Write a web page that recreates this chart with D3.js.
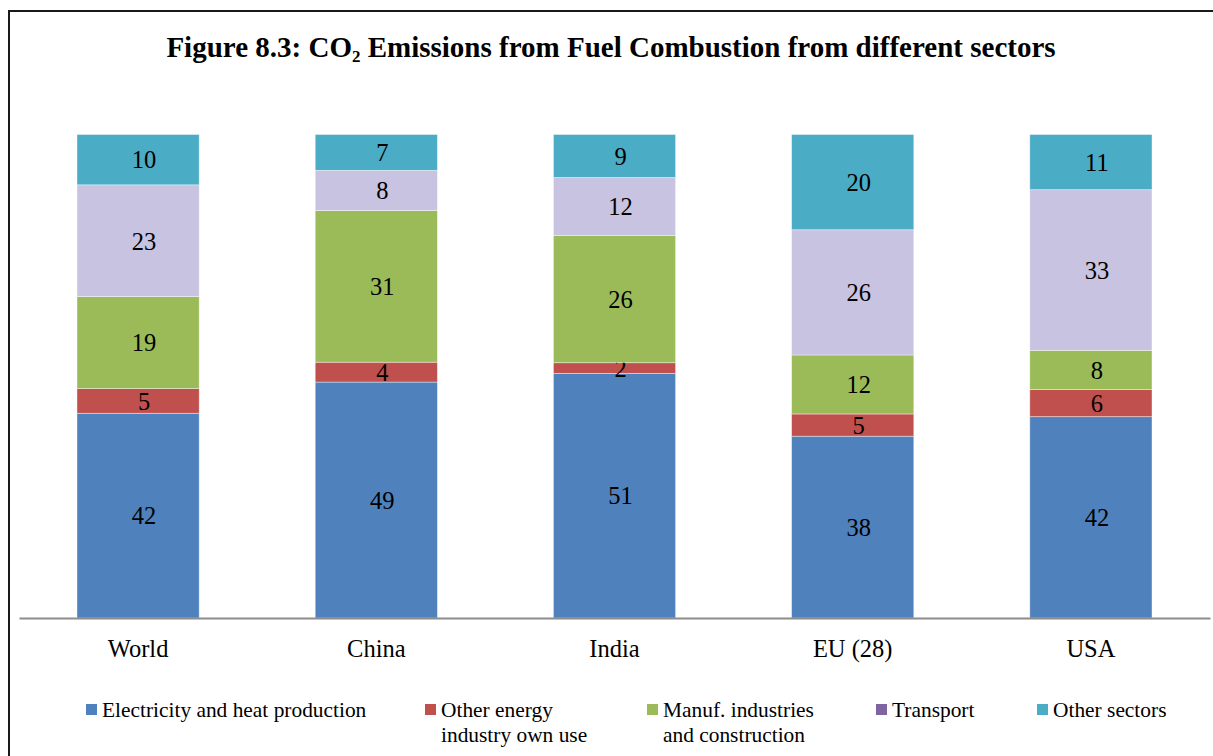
<!DOCTYPE html>
<html>
<head>
<meta charset="utf-8">
<script src="https://cdn.jsdelivr.net/npm/d3@7"></script>
<style>
  html, body { margin: 0; padding: 0; background: #fff; }
  svg { display: block; }
  text { font-family: "Liberation Serif", "Times New Roman", serif; fill: #000; }
</style>
</head>
<body>
<svg id="chart" width="1213" height="756"></svg>
<script>
const categories = ["World", "China", "India", "EU (28)", "USA"];
const seriesNames = ["Electricity and heat production", "Other energy industry own use", "Manuf. industries and construction", "Transport", "Other sectors"];
const legendLines = [["Electricity and heat production"], ["Other energy", "industry own use"], ["Manuf. industries", "and construction"], ["Transport"], ["Other sectors"]];
const electricity = [42.3, 48.7, 50.6, 37.6, 41.6];
const otherEnergy = [5.1, 4.1, 2.2, 4.6, 5.6];
const manufacturing = [19.0, 31.3, 26.3, 12.2, 8.1];
const transport = [23.1, 8.3, 12.0, 25.9, 33.2];
const otherSectors = [10.4, 7.4, 8.9, 19.7, 11.4];

const barColors = ["#4f81bd", "#c0504d", "#9bbb59", "#c7c3e1", "#4bacc6"];
const legendColors = ["#4f81bd", "#c0504d", "#9bbb59", "#8064a2", "#4bacc6"];

const seriesValues = [electricity, otherEnergy, manufacturing, transport, otherSectors];
const rows = categories.map((c, i) => {
  const r = { category: c };
  seriesNames.forEach((s, j) => r[s] = seriesValues[j][i]);
  return r;
});

const svg = d3.select("#chart");

// outer frame (extends beyond the viewport on right/bottom)
svg.append("rect")
  .attr("x", 9).attr("y", 11).attr("width", 1260).attr("height", 800)
  .attr("fill", "none").attr("stroke", "#1a1a1a").attr("stroke-width", 2);

// title
const title = svg.append("text")
  .attr("x", 611).attr("y", 57)
  .attr("text-anchor", "middle")
  .attr("font-weight", "bold")
  .attr("font-size", 29);
title.append("tspan").text("Figure 8.3: CO");
title.append("tspan").attr("font-size", 17).attr("dy", 5).text("2");
title.append("tspan").attr("dy", -5).text(" Emissions from Fuel Combustion from different sectors");

const x = d3.scaleBand().domain(categories).range([19, 1210]).paddingInner(0.487).paddingOuter(0.2435);
const y = d3.scaleLinear().domain([0, 1]).range([618, 134.5]);

const stack = d3.stack().keys(seriesNames).offset(d3.stackOffsetExpand);
const stacked = stack(rows);

const layers = svg.append("g").selectAll("g")
  .data(stacked).join("g")
  .attr("fill", (d, i) => barColors[i]);

layers.selectAll("rect")
  .data(d => d.map(p => ({ p, key: d.key })))
  .join("rect")
  .attr("x", d => x(d.p.data.category))
  .attr("width", x.bandwidth())
  .attr("y", d => y(d.p[1]))
  .attr("height", d => y(d.p[0]) - y(d.p[1]))
  .attr("stroke", "rgba(255,255,255,0.5)")
  .attr("stroke-width", 0.8);

layers.selectAll("text")
  .data(d => d.map(p => ({ p, key: d.key })))
  .join("text")
  .attr("x", d => x(d.p.data.category) + x.bandwidth() / 2 + 6)
  .attr("y", d => (y(d.p[0]) + y(d.p[1])) / 2)
  .attr("dy", "0.36em")
  .attr("text-anchor", "middle")
  .attr("font-size", 24.5)
  .text(d => Math.round(d.p.data[d.key]));

// x axis
const xAxis = svg.append("g").attr("transform", "translate(0,618)")
  .call(d3.axisBottom(x).tickSize(0).tickPadding(22));
xAxis.select(".domain").attr("stroke", "#8c8c8c").attr("stroke-width", 2);
xAxis.selectAll("text")
  .attr("font-family", "Liberation Serif, Times New Roman, serif")
  .attr("font-size", 24.5)
  .attr("fill", "#000");

// legend
const legendX = [86, 425, 647, 876, 1037];
const legend = svg.append("g").selectAll("g")
  .data(seriesNames).join("g")
  .attr("transform", (d, i) => `translate(${legendX[i]},0)`);
legend.append("rect")
  .attr("x", 0).attr("y", 704).attr("width", 11).attr("height", 11)
  .attr("fill", (d, i) => legendColors[i]);
legend.each(function (d, i) {
  const t = d3.select(this).append("text")
    .attr("x", 16).attr("y", 717)
    .attr("font-size", 21.4);
  legendLines[i].forEach((line, k) => {
    t.append("tspan").attr("x", 16).attr("dy", k === 0 ? 0 : 25).text(line);
  });
});
</script>
</body>
</html>
